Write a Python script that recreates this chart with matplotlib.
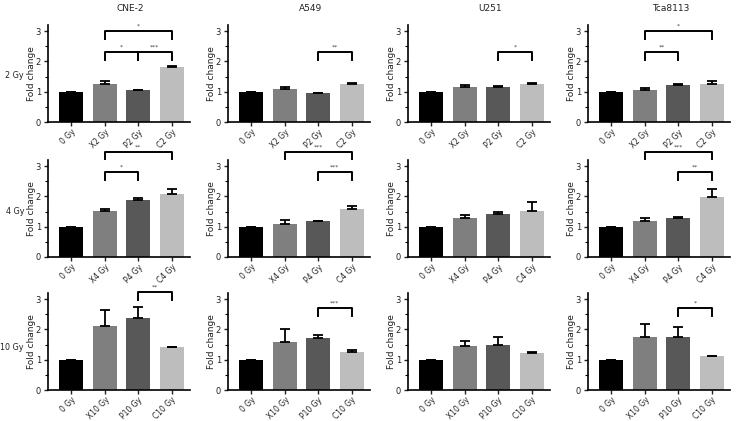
import matplotlib.pyplot as plt
import matplotlib.transforms as mtransforms
from matplotlib.ticker import MultipleLocator

cell_lines = ["CNE-2", "A549", "U251", "Tca8113"]
doses = ["2 Gy", "4 Gy", "10 Gy"]
dose_nums = ["2", "4", "10"]
bar_colors = ["#000000", "#7f7f7f", "#585858", "#bdbdbd"]

# mean fold change per row (dose) and column (cell line)
means = [
    [[1.0, 1.27, 1.04, 1.82], [1.0, 1.09, 0.95, 1.25], [1.0, 1.14, 1.17, 1.26], [1.0, 1.07, 1.22, 1.26]],
    [[1.0, 1.52, 1.87, 2.07], [1.0, 1.10, 1.18, 1.58], [1.0, 1.30, 1.42, 1.53], [1.0, 1.20, 1.30, 1.98]],
    [[1.0, 2.10, 2.38, 1.42], [1.0, 1.60, 1.70, 1.25], [1.0, 1.45, 1.48, 1.23], [1.0, 1.75, 1.75, 1.12]],
]
errors = [
    [[0, 0.07, 0.02, 0.03], [0, 0.07, 0.02, 0.03], [0, 0.08, 0.01, 0.03], [0, 0.04, 0.03, 0.09]],
    [[0, 0.08, 0.09, 0.16], [0, 0.12, 0.02, 0.10], [0, 0.08, 0.07, 0.27], [0, 0.08, 0.03, 0.25]],
    [[0, 0.55, 0.35, 0.01], [0, 0.40, 0.13, 0.07], [0, 0.18, 0.28, 0.01], [0, 0.42, 0.33, 0.01]],
]
# significance brackets: (from bar, to bar, height, label)
brackets = [
    [[(1, 2, 2.3, "*"), (2, 3, 2.3, "***"), (1, 3, 3.0, "*")],
     [(2, 3, 2.3, "**")],
     [(2, 3, 2.3, "*")],
     [(1, 2, 2.3, "**"), (1, 3, 3.0, "*")]],
    [[(1, 2, 2.8, "*"), (1, 3, 3.47, "**")],
     [(2, 3, 2.8, "***"), (1, 3, 3.47, "***")],
     [],
     [(2, 3, 2.8, "**"), (1, 3, 3.47, "***")]],
    [[(2, 3, 3.23, "**")],
     [(2, 3, 2.7, "***")],
     [],
     [(2, 3, 2.7, "*")]],
]

W, H = 736, 421
fig = plt.figure(figsize=(W / 100, H / 100), dpi=100)
plt.rcParams['font.family'] = ['DejaVu Sans']
txt = "#222222"

col_left = [48, 228, 408, 588]
row_zero = [122, 257, 390]
row_label_y = [75, 211, 348]
ax_w = 142
ax_h = 97

# small shift so rotated tick labels end near the bar like in the original
shift = mtransforms.ScaledTranslation(3 / 72, 0, fig.dpi_scale_trans)

for r in range(3):
    for c in range(4):
        x0 = col_left[c] / W
        y0 = 1 - row_zero[r] / H
        ax = fig.add_axes([x0, y0, ax_w / W, ax_h / H])
        d = dose_nums[r]
        labels = ["0 Gy", "X%s Gy" % d, "P%s Gy" % d, "C%s Gy" % d]
        xs = range(4)
        ax.bar(xs, means[r][c], width=0.72, color=bar_colors, zorder=2)
        ax.errorbar(xs, means[r][c], yerr=[[0] * 4, errors[r][c]], fmt='none',
                    ecolor='black', elinewidth=1.3, capsize=3.5, capthick=1.3, zorder=3)
        ax.set_xlim(-0.7, 3.55)
        ax.set_ylim(0, 3.2)
        ax.yaxis.set_major_locator(MultipleLocator(1))
        ax.yaxis.set_minor_locator(MultipleLocator(0.5))
        ax.set_xticks(list(xs))
        ax.set_xticklabels(labels, rotation=45, ha='right', rotation_mode='anchor',
                           fontsize=5.5, color=txt)
        for lbl in ax.get_xticklabels():
            lbl.set_transform(lbl.get_transform() + shift)
        ax.tick_params(axis='y', labelsize=6, colors=txt, length=3, width=1, pad=2)
        ax.tick_params(axis='y', which='minor', length=2, width=0.8)
        ax.tick_params(axis='x', length=3, width=1, colors=txt, pad=1)
        for s in ['top', 'right']:
            ax.spines[s].set_visible(False)
        for s in ['left', 'bottom']:
            ax.spines[s].set_linewidth(1.2)
        ax.set_ylabel("Fold change", fontsize=6.5, color=txt)
        ax.yaxis.set_label_coords(-12 / ax_w, 0.5)
        for a, b, h, lab in brackets[r][c]:
            ax.plot([a, a, b, b], [h - 0.25, h, h, h - 0.25], color='black',
                    lw=1.4, clip_on=False, zorder=4)
            ax.text((a + b) / 2, h + 0.08, lab, ha='center', va='bottom',
                    fontsize=4.5, color='#444444', clip_on=False)
        if r == 0:
            ax.text(0.58, 1.0 + 17 / ax_h, cell_lines[c], transform=ax.transAxes,
                    ha='center', va='center', fontsize=6.5, color=txt)
        if c == 0:
            fig.text(24 / W, 1 - row_label_y[r] / H, doses[r], ha='right',
                     va='center', fontsize=5.8, color=txt)

fig.savefig("out.png", dpi=100)
